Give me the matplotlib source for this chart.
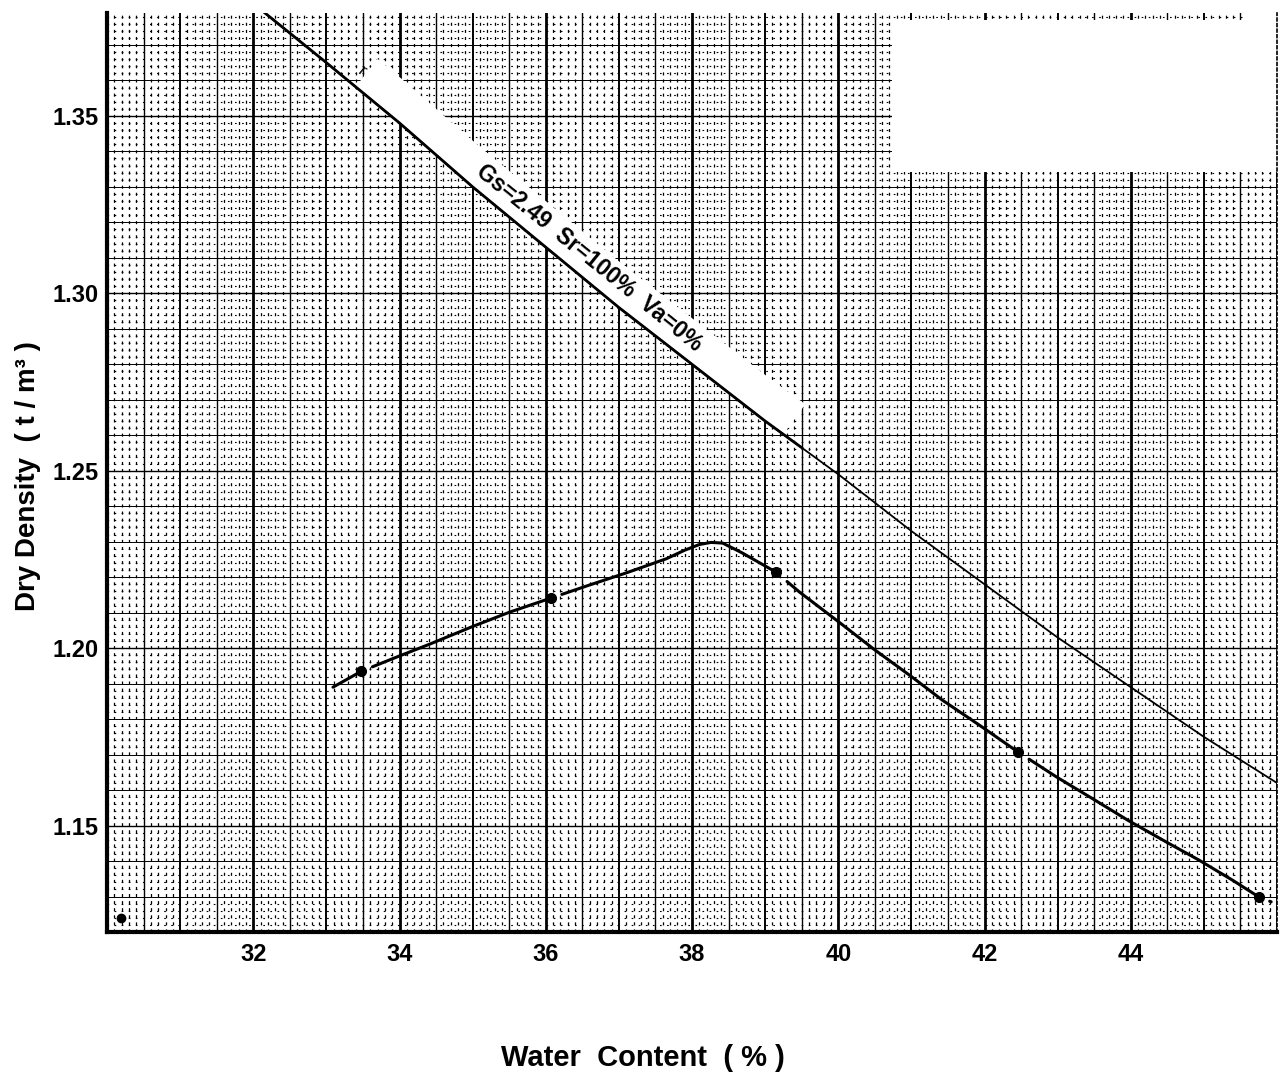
import numpy as np
import matplotlib
matplotlib.use("Agg")
import matplotlib.pyplot as plt
from matplotlib.patches import Polygon, Rectangle

plt.rcParams['font.family'] = ['Liberation Sans', 'DejaVu Sans']
plt.rcParams['lines.scale_dashes'] = False

# zero air voids line (Gs = 2.49)
sat_w = [32.16, 33, 34, 35, 36, 37, 38, 39, 40, 41, 42, 43, 44, 45, 46]
sat_rho = [1.379, 1.365, 1.348, 1.330, 1.313, 1.296, 1.280, 1.264, 1.249,
           1.233, 1.218, 1.203, 1.189, 1.175, 1.162]

# hand drawn compaction curve
curve_w = [33.09, 33.48, 34.00, 34.41, 35.00, 35.50, 36.07, 36.60, 37.10,
           37.65, 37.90, 38.10, 38.26, 38.42, 38.69, 39.15, 39.47, 40.00,
           40.50, 41.00, 41.42, 41.93, 42.46, 43.00, 43.50, 43.96, 44.50,
           44.93, 45.40, 45.75, 45.92]
curve_rho = [1.1890, 1.1935, 1.1978, 1.2011, 1.2061, 1.2101, 1.2141, 1.2178,
             1.2212, 1.2252, 1.2276, 1.2292, 1.2298, 1.2296, 1.2268, 1.2214,
             1.2158, 1.2075, 1.1995, 1.1920, 1.1854, 1.1783, 1.1707, 1.1635,
             1.1573, 1.1515, 1.1452, 1.1403, 1.1345, 1.1299, 1.1285]

# test results
test_w = [33.48, 36.07, 39.15, 42.46, 45.75]
test_rho = [1.1935, 1.2141, 1.2214, 1.1707, 1.1299]
stray_w = [30.19]
stray_rho = [1.124]

xticks = [32, 34, 36, 38, 40, 42, 44]
yticks = [1.15, 1.20, 1.25, 1.30, 1.35]
label_text = "Gs=2.49  Sr=100%  Va=0%"

fig = plt.figure(figsize=(12.8, 10.78), dpi=100)
ax = fig.add_axes([107/1280, 1 - 932/1078, 1170/1280, 919/1078])
ax.set_xlim(30, 46)
ax.set_ylim(1.12, 1.379)

# graph paper
for i in range(161):
    x = 30 + i / 10
    if i % 20 == 0:
        ax.axvline(x, color='k', lw=2.0, zorder=0.5)
    elif i % 10 == 0:
        ax.axvline(x, color='k', lw=1.4, zorder=0.5)
    elif i % 5 == 0:
        ax.axvline(x, color='k', lw=1.0, zorder=0.5)
    else:
        ax.axvline(x, color='k', lw=0.9, ls=(0, (2.2, 2.9)), zorder=0.4)
for k in range(560, 690):
    y = k * 0.002
    if k % 25 == 0:
        ax.axhline(y, color='k', lw=1.0, zorder=0.5)
    elif k % 5 == 0:
        ax.axhline(y, color='k', lw=0.7, zorder=0.5)
    else:
        ax.axhline(y, color='k', lw=0.8, ls=(0, (1.2, 3.9)), zorder=0.4)

# blank patch of paper, top right
ax.add_patch(Rectangle((40.74, 1.3342), 6, 0.0427, facecolor='white',
                       edgecolor='none', zorder=0.8, clip_on=False))
ax.add_patch(Rectangle((45.54, 1.3769), 1, 0.01, facecolor='white',
                       edgecolor='none', zorder=0.8, clip_on=False))

# white strip carrying the line label
lo = np.linspace(33.40, 39.25, 30)
hi = np.linspace(39.55, 33.70, 30)
band = list(zip(lo, np.interp(lo, sat_w, sat_rho))) + \
    list(zip(hi, np.interp(hi, sat_w, sat_rho) + 0.0130))
ax.add_patch(Polygon(band, closed=True, facecolor='white', edgecolor='none',
                     zorder=1))

# saturation line
ax.plot(sat_w, sat_rho, color='k', lw=1.3, zorder=2)
thick = [w for w in sat_w if w <= 39.5] + [39.5]
ax.plot(thick, np.interp(thick, sat_w, sat_rho), color='k', lw=2.0, zorder=2)

p0 = ax.transData.transform((35, np.interp(35, sat_w, sat_rho)))
p1 = ax.transData.transform((38, np.interp(38, sat_w, sat_rho)))
ang = np.degrees(np.arctan2(p1[1] - p0[1], p1[0] - p0[0]))
ax.text(36.60, 1.3100, label_text, rotation=ang, rotation_mode='anchor',
        ha='center', va='center', fontsize=16.5, fontweight='bold', zorder=3)
ax.text(33.49, 1.3625, "r", rotation=ang, rotation_mode='anchor',
        ha='center', va='center', fontsize=12, zorder=3)

# compaction curve, pen lifted just after each point
gap = 0.15
stops = [curve_w[0]] + test_w + [curve_w[-1]]
for n in range(len(stops) - 1):
    a = stops[n] + (gap if n > 0 else 0)
    b = stops[n + 1]
    if b <= a:
        continue
    xs = [a] + [w for w in curve_w if a < w < b] + [b]
    ax.plot(xs, np.interp(xs, curve_w, curve_rho), color='k', lw=2.2,
            solid_capstyle='round', zorder=2)
ax.plot(test_w, test_rho, 'o', color='k', ms=7, zorder=4)
ax.plot(stray_w, stray_rho, 'o', color='k', ms=6, zorder=4)

# frame
ax.spines['top'].set_visible(False)
ax.spines['left'].set_linewidth(3)
ax.spines['bottom'].set_linewidth(3)
ax.spines['right'].set_linewidth(1.2)
ax.spines['right'].set_linestyle((0, (2, 2)))
for s in ax.spines.values():
    s.set_zorder(5)

ax.set_xticks(xticks)
ax.set_xticklabels([str(t) for t in xticks])
ax.set_yticks(yticks)
ax.set_yticklabels(["%.2f" % t for t in yticks])
ax.tick_params(axis='both', length=0, labelsize=17)
ax.tick_params(axis='x', pad=8)
ax.tick_params(axis='y', pad=6)
for t in ax.get_xticklabels() + ax.get_yticklabels():
    t.set_fontweight('bold')

fig.text(643/1280, 1 - 1058/1078, "Water  Content  ( % )", ha='center',
         va='center', fontsize=21, fontweight='bold')
fig.text(28/1280, 1 - 476/1078, "Dry Density  ( t / m³ )", rotation=90,
         ha='center', va='center', fontsize=20, fontweight='bold')

fig.savefig("out.png", dpi=100)
